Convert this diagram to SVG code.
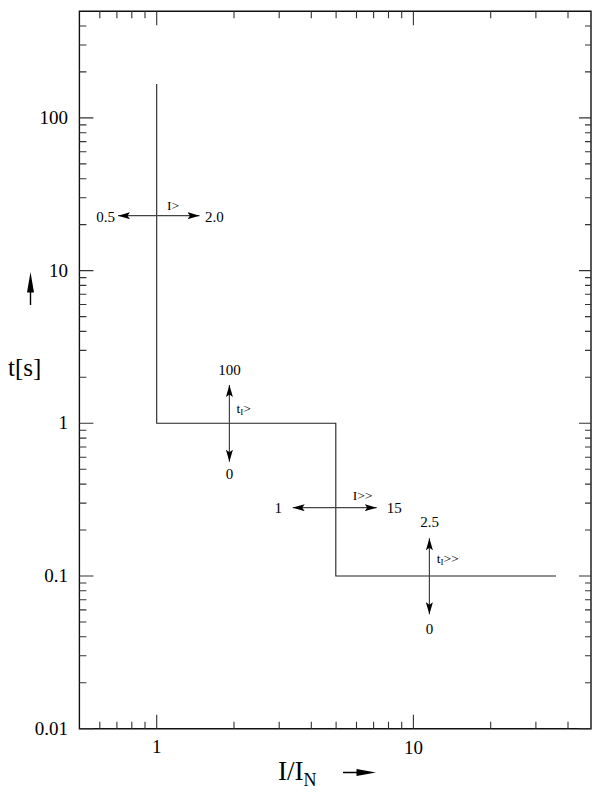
<svg xmlns="http://www.w3.org/2000/svg" width="592" height="792" viewBox="0 0 592 792">
<defs>
<style>
.frame{fill:none;stroke:#111;stroke-width:1.4}
.tick{fill:none;stroke:#333;stroke-width:1.1}
.curve{fill:none;stroke:#222;stroke-width:1.1}
.arr{fill:none;stroke:#444;stroke-width:1.2}
.lbl{font-family:"Liberation Serif","Times New Roman",serif;fill:#000}
.ax{font-size:19px}
.sm{font-size:15px}
.tiny{font-size:13.5px}
</style>
<marker id="ah" markerUnits="userSpaceOnUse" markerWidth="12" markerHeight="7" refX="12" refY="3.5" orient="auto-start-reverse" viewBox="0 0 12 7">
<path d="M0,0 L12,3.5 L0,7 L2.5,3.5 z" fill="#000"/>
</marker>
</defs>
<rect width="592" height="792" fill="#fff"/>
<g id="frame">
<path class="frame" d="M79.4,11.2 H591 V728.7 H79.4 Z"/>
</g>
<g id="ticks">
<path class="tick" d="M99.8,728.7v-7 M116.9,728.7v-7 M131.8,728.7v-7 M145,728.7v-7 M156.7,728.7v-14 M234,728.7v-7 M279.2,728.7v-7 M311.3,728.7v-7 M336.1,728.7v-7 M356.5,728.7v-7 M373.6,728.7v-7 M388.5,728.7v-7 M401.7,728.7v-7 M413.4,728.7v-14 M490.7,728.7v-7 M535.9,728.7v-7 M568,728.7v-7"/>
<path class="tick" d="M99.8,11.2v7 M116.9,11.2v7 M131.8,11.2v7 M145,11.2v7 M156.7,11.2v14 M234,11.2v7 M279.2,11.2v7 M311.3,11.2v7 M336.1,11.2v7 M356.5,11.2v7 M373.6,11.2v7 M388.5,11.2v7 M401.7,11.2v7 M413.4,11.2v14 M490.7,11.2v7 M535.9,11.2v7 M568,11.2v7"/>
<path class="tick" d="M79.4,728.7h14 M79.4,682.7h7 M79.4,655.8h7 M79.4,636.8h7 M79.4,622h7 M79.4,609.9h7 M79.4,599.7h7 M79.4,590.8h7 M79.4,583h7 M79.4,576h14 M79.4,530h7 M79.4,503.1h7 M79.4,484.1h7 M79.4,469.3h7 M79.4,457.2h7 M79.4,447h7 M79.4,438.1h7 M79.4,430.3h7 M79.4,423.3h14 M79.4,377.3h7 M79.4,350.4h7 M79.4,331.4h7 M79.4,316.6h7 M79.4,304.5h7 M79.4,294.3h7 M79.4,285.4h7 M79.4,277.6h7 M79.4,270.6h14 M79.4,224.6h7 M79.4,197.7h7 M79.4,178.7h7 M79.4,163.9h7 M79.4,151.8h7 M79.4,141.6h7 M79.4,132.7h7 M79.4,124.9h7 M79.4,117.9h14 M79.4,71.9h7 M79.4,45h7 M79.4,26h7"/>
<path class="tick" d="M591,728.7h-12 M591,682.7h-6 M591,655.8h-6 M591,636.8h-6 M591,622h-6 M591,609.9h-6 M591,599.7h-6 M591,590.8h-6 M591,583h-6 M591,576h-12 M591,530h-6 M591,503.1h-6 M591,484.1h-6 M591,469.3h-6 M591,457.2h-6 M591,447h-6 M591,438.1h-6 M591,430.3h-6 M591,423.3h-12 M591,377.3h-6 M591,350.4h-6 M591,331.4h-6 M591,316.6h-6 M591,304.5h-6 M591,294.3h-6 M591,285.4h-6 M591,277.6h-6 M591,270.6h-12 M591,224.6h-6 M591,197.7h-6 M591,178.7h-6 M591,163.9h-6 M591,151.8h-6 M591,141.6h-6 M591,132.7h-6 M591,124.9h-6 M591,117.9h-12 M591,71.9h-6 M591,45h-6 M591,26h-6"/>
</g>
<g id="axis-labels" class="lbl ax">
<text x="68" y="124" text-anchor="end">100</text>
<text x="68" y="276.6" text-anchor="end">10</text>
<text x="68" y="429.3" text-anchor="end">1</text>
<text x="68" y="582" text-anchor="end">0.1</text>
<text x="68" y="734.7" text-anchor="end">0.01</text>
<text x="156.7" y="753" text-anchor="middle">1</text>
<text x="413.4" y="754" text-anchor="middle">10</text>
</g>
<g id="axis-titles">
<text class="lbl" x="8" y="375.6" font-size="25">t[s]</text>
<path d="M30.5,272 L34,292.5 L31.2,292.5 L31.2,305 L29.8,305 L29.8,292.5 L27,292.5 Z" fill="#000"/>
<text class="lbl" x="278" y="780" font-size="27">I/I<tspan font-size="18" dy="6">N</tspan></text>
<path d="M376,772.5 L356.5,776 L356.5,773.2 L343,773.2 L343,771.8 L356.5,771.8 L356.5,769 Z" fill="#000"/>
</g>
<g id="curve">
<path class="curve" d="M156.7,84 V423.3 H335.8 V576 H556"/>
</g>
<g id="connectors">
<line class="arr" x1="118" y1="215.7" x2="199.5" y2="215.7" marker-start="url(#ah)" marker-end="url(#ah)"/>
<line class="arr" x1="229.4" y1="385" x2="229.4" y2="461.7" marker-start="url(#ah)" marker-end="url(#ah)"/>
<line class="arr" x1="292.7" y1="507.7" x2="376.7" y2="507.7" marker-start="url(#ah)" marker-end="url(#ah)"/>
<line class="arr" x1="429.4" y1="538.3" x2="429.4" y2="614.3" marker-start="url(#ah)" marker-end="url(#ah)"/>
</g>
<g id="setting-I1" class="lbl">
<text class="sm" x="115" y="221.7" text-anchor="end">0.5</text>
<text class="sm" x="205" y="221.7">2.0</text>
<text class="tiny" x="167" y="210">I&gt;</text>
</g>
<g id="setting-tI1" class="lbl">
<text class="sm" x="229.5" y="375" text-anchor="middle">100</text>
<text class="sm" x="229.5" y="478.5" text-anchor="middle">0</text>
<text class="tiny" x="236.5" y="413">t<tspan font-size="9" dy="2">I</tspan><tspan dy="-2">&gt;</tspan></text>
</g>
<g id="setting-I2" class="lbl">
<text class="sm" x="278.3" y="512.5" text-anchor="middle">1</text>
<text class="sm" x="386.7" y="512.5">15</text>
<text class="tiny" x="352.7" y="500">I&gt;&gt;</text>
</g>
<g id="setting-tI2" class="lbl">
<text class="sm" x="429.5" y="527" text-anchor="middle">2.5</text>
<text class="sm" x="429.5" y="633.5" text-anchor="middle">0</text>
<text class="tiny" x="436.7" y="563">t<tspan font-size="9" dy="2">I</tspan><tspan dy="-2">&gt;&gt;</tspan></text>
</g>
</svg>
